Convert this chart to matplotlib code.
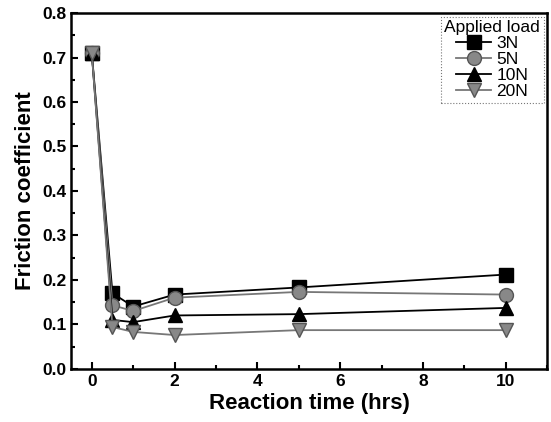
import matplotlib
matplotlib.use("Agg")
import matplotlib.pyplot as plt
from matplotlib.ticker import MultipleLocator

plt.rcParams['font.family'] = ['Liberation Sans', 'DejaVu Sans']

time = [0, 0.5, 1, 2, 5, 10]
f_3N = [0.71, 0.170, 0.140, 0.167, 0.183, 0.212]
f_5N = [0.71, 0.143, 0.130, 0.160, 0.173, 0.167]
f_10N = [0.71, 0.110, 0.105, 0.120, 0.123, 0.137]
f_20N = [0.71, 0.094, 0.083, 0.076, 0.087, 0.087]
labels = ['3N', '5N', '10N', '20N']

fig = plt.figure(figsize=(5.51, 4.22), dpi=100)
ax = fig.add_axes([0.129, 0.126, 0.864, 0.843])

styles = [
    dict(marker='s', color='black', mfc='black', mec='black'),
    dict(marker='o', color='#777777', mfc='#888888', mec='#555555'),
    dict(marker='^', color='black', mfc='black', mec='black'),
    dict(marker='v', color='#777777', mfc='#888888', mec='#555555'),
]
for ys, lab, st in zip([f_3N, f_5N, f_10N, f_20N], labels, styles):
    ax.plot(time, ys, label=lab, lw=1.3, ms=10, **st)

ax.set_xlim(-0.5, 11)
ax.set_ylim(0, 0.8)
ax.xaxis.set_major_locator(MultipleLocator(2))
ax.xaxis.set_minor_locator(MultipleLocator(1))
ax.yaxis.set_major_locator(MultipleLocator(0.1))
ax.yaxis.set_minor_locator(MultipleLocator(0.05))
ax.tick_params(which='both', direction='in', top=False, right=False, width=1.5)
ax.tick_params(which='major', length=5, labelsize=12.5)
ax.tick_params(which='minor', length=3)
for lbl in ax.get_xticklabels() + ax.get_yticklabels():
    lbl.set_fontweight('bold')
for s in ax.spines.values():
    s.set_linewidth(1.8)

ax.set_xlabel('Reaction time (hrs)', fontsize=16, fontweight='bold', labelpad=3)
ax.set_ylabel('Friction coefficient', fontsize=16, fontweight='bold', labelpad=4)

leg = ax.legend(title='Applied load', loc='upper right', fontsize=12.5,
                title_fontsize=12.5, frameon=True, fancybox=False,
                edgecolor='#555555', handlelength=2.0, handletextpad=0.3,
                labelspacing=0.05, borderpad=0.2, borderaxespad=0.2)
leg.get_frame().set_linewidth(0.8)
leg.get_frame().set_linestyle(':')

fig.savefig('out.png', dpi=100)
